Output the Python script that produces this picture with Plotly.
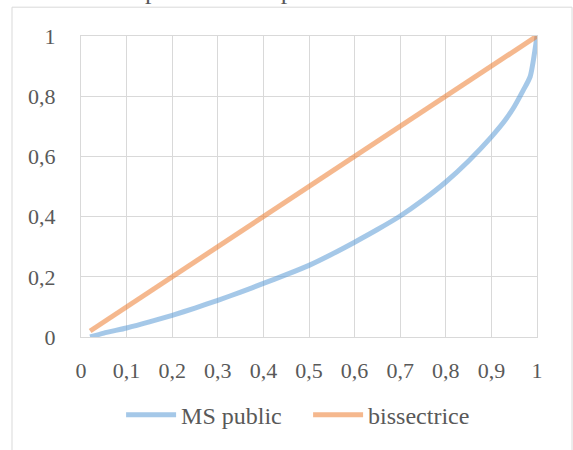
import plotly.graph_objects as go

# Cumulative share of population (x) vs cumulative share of the public (y)
ms_x = [0.02, 0.05, 0.1, 0.15, 0.2, 0.25, 0.3, 0.35, 0.4, 0.45, 0.5, 0.55, 0.6,
        0.65, 0.7, 0.75, 0.8, 0.85, 0.9, 0.93, 0.95, 0.97, 0.985, 1.0]
ms_y = [0.0, 0.013, 0.03, 0.05, 0.072, 0.096, 0.122, 0.149, 0.178, 0.207, 0.238,
        0.275, 0.315, 0.357, 0.402, 0.455, 0.515, 0.585, 0.665, 0.72, 0.765, 0.82,
        0.865, 1.0]

bis_x = [0.02, 1.0]
bis_y = [0.02, 1.0]

x_ticks = [0, 0.1, 0.2, 0.3, 0.4, 0.5, 0.6, 0.7, 0.8, 0.9, 1]
x_labels = ["0", "0,1", "0,2", "0,3", "0,4", "0,5", "0,6", "0,7", "0,8", "0,9", "1"]
y_ticks = [0, 0.2, 0.4, 0.6, 0.8, 1]
y_labels = ["0", "0,2", "0,4", "0,6", "0,8", "1"]

title_text = "Répartition des publics en MS"

FONT = "Liberation Serif, Times New Roman, serif"
GRID = "#d9d9d9"
TXT = "#595959"

fig = go.Figure()
fig.add_trace(go.Scatter(
    x=ms_x, y=ms_y, mode="lines", name="MS public",
    line=dict(color="rgba(91,155,213,0.55)", width=5, shape="spline", smoothing=0.6),
))
fig.add_trace(go.Scatter(
    x=bis_x, y=bis_y, mode="lines", name="bissectrice",
    line=dict(color="rgba(237,125,49,0.55)", width=5),
))

fig.update_layout(
    width=573, height=450,
    margin=dict(l=81, r=36, t=36, b=111),
    paper_bgcolor="white", plot_bgcolor="white",
    font=dict(family=FONT, size=22, color=TXT),
    showlegend=True,
    legend=dict(orientation="h", x=0.498, xanchor="center", y=-0.26, yanchor="middle",
                font=dict(family=FONT, size=24, color=TXT),
                itemwidth=50,
                entrywidth=122, entrywidthmode="pixels",
                bgcolor="rgba(0,0,0,0)"),
    xaxis=dict(range=[0, 1], tickvals=x_ticks, ticktext=x_labels,
               showgrid=True, gridcolor=GRID, gridwidth=1,
               showline=True, linecolor=GRID, linewidth=1, mirror=True,
               zeroline=False, ticks="", ticklabelstandoff=14, fixedrange=True),
    yaxis=dict(range=[0, 1], tickvals=y_ticks, ticktext=y_labels,
               showgrid=True, gridcolor=GRID, gridwidth=1,
               showline=True, linecolor=GRID, linewidth=1, mirror=True,
               zeroline=False, ticks="", ticklabelstandoff=20, fixedrange=True),
    shapes=[dict(type="rect", xref="paper", yref="paper",
                 x0=-0.1513, x1=1.0768, y0=-0.45, y1=1.0957,
                 line=dict(color=GRID, width=1), fillcolor="rgba(0,0,0,0)",
                 layer="below")],
    annotations=[dict(text=title_text, xref="paper", yref="paper",
                      x=0.422, y=1.097, xanchor="center", yanchor="bottom",
                      showarrow=False,
                      font=dict(family=FONT, size=26, color=TXT))],
)

fig.write_html("out.html")
